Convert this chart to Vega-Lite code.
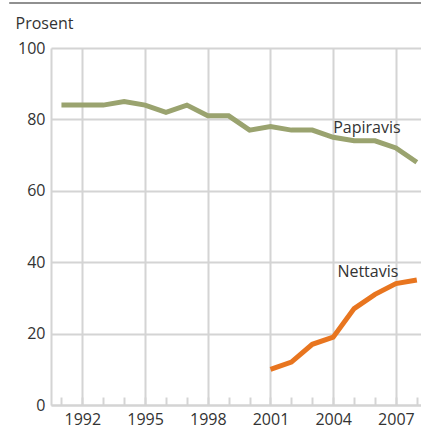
{
  "$schema": "https://vega.github.io/schema/vega-lite/v6.json",
  "width": 370,
  "height": 357,
  "autosize": {"type": "none"},
  "padding": {"left": 51, "top": 48, "right": 0, "bottom": 22},
  "background": "white",
  "config": {
    "font": "Open Sans",
    "view": {"stroke": null}
  },
  "datasets": {
    "series": [
      {"year": 1991, "value": 84, "series": "Papiravis"},
      {"year": 1992, "value": 84, "series": "Papiravis"},
      {"year": 1993, "value": 84, "series": "Papiravis"},
      {"year": 1994, "value": 85, "series": "Papiravis"},
      {"year": 1995, "value": 84, "series": "Papiravis"},
      {"year": 1996, "value": 82, "series": "Papiravis"},
      {"year": 1997, "value": 84, "series": "Papiravis"},
      {"year": 1998, "value": 81, "series": "Papiravis"},
      {"year": 1999, "value": 81, "series": "Papiravis"},
      {"year": 2000, "value": 77, "series": "Papiravis"},
      {"year": 2001, "value": 78, "series": "Papiravis"},
      {"year": 2002, "value": 77, "series": "Papiravis"},
      {"year": 2003, "value": 77, "series": "Papiravis"},
      {"year": 2004, "value": 75, "series": "Papiravis"},
      {"year": 2005, "value": 74, "series": "Papiravis"},
      {"year": 2006, "value": 74, "series": "Papiravis"},
      {"year": 2007, "value": 72, "series": "Papiravis"},
      {"year": 2008, "value": 68, "series": "Papiravis"},
      {"year": 2001, "value": 10, "series": "Nettavis"},
      {"year": 2002, "value": 12, "series": "Nettavis"},
      {"year": 2003, "value": 17, "series": "Nettavis"},
      {"year": 2004, "value": 19, "series": "Nettavis"},
      {"year": 2005, "value": 27, "series": "Nettavis"},
      {"year": 2006, "value": 31, "series": "Nettavis"},
      {"year": 2007, "value": 34, "series": "Nettavis"},
      {"year": 2008, "value": 35, "series": "Nettavis"}
    ],
    "labels": [
      {"year": 2004.0, "value": 76.2, "text": "Papiravis"},
      {"year": 2004.2, "value": 35.9, "text": "Nettavis"}
    ],
    "topline": [
      {"year": 1988.5, "year2": 2008.3, "value": 112.6}
    ]
  },
  "encoding": {
    "x": {
      "field": "year", "type": "quantitative",
      "scale": {"domain": [1990.5, 2008.2], "zero": false, "nice": false},
      "axis": {
        "title": null,
        "values": [1991,1992,1993,1994,1995,1996,1997,1998,1999,2000,2001,2002,2003,2004,2005,2006,2007,2008],
        "format": "d",
        "labelExpr": "(datum.value - 1992) % 3 == 0 ? datum.label : ''",
        "labelFlush": false,
        "labelOverlap": false,
        "labelFontSize": 16,
        "labelColor": "#333333",
        "labelPadding": 14,
        "grid": true,
        "gridColor": "#d4d4d4",
        "gridWidth": 2,
        "gridOpacity": {"condition": {"test": "(datum.value - 1992) % 3 == 0", "value": 1}, "value": 0},
        "ticks": true,
        "tickSize": -8,
        "tickColor": "#d4d4d4",
        "tickWidth": 2,
        "domain": true,
        "domainColor": "#d4d4d4",
        "domainWidth": 2
      }
    },
    "y": {
      "field": "value", "type": "quantitative",
      "scale": {"domain": [0, 100], "nice": false},
      "axis": {
        "title": "Prosent",
        "titleAngle": 0,
        "titleAlign": "left",
        "titleBaseline": "alphabetic",
        "titleX": -36,
        "titleY": -20,
        "titleFontSize": 16,
        "titleFontWeight": "normal",
        "titleColor": "#333333",
        "values": [0, 20, 40, 60, 80, 100],
        "labelFontSize": 16,
        "labelColor": "#333333",
        "labelPadding": 6,
        "ticks": false,
        "grid": true,
        "gridColor": "#d4d4d4",
        "gridWidth": 2,
        "domain": true,
        "domainColor": "#d4d4d4",
        "domainWidth": 2
      }
    }
  },
  "layer": [
    {
      "data": {"name": "series"},
      "mark": {"type": "line", "strokeWidth": 5, "strokeCap": "butt", "strokeJoin": "miter"},
      "encoding": {
        "color": {
          "field": "series", "type": "nominal",
          "scale": {"domain": ["Papiravis", "Nettavis"], "range": ["#9aa36f", "#e8751f"]},
          "legend": null
        }
      }
    },
    {
      "data": {"name": "topline"},
      "mark": {"type": "rule", "color": "#222222", "strokeWidth": 1.2},
      "encoding": {
        "x2": {"field": "year2"}
      }
    },
    {
      "data": {"name": "labels"},
      "mark": {"type": "text", "align": "left", "baseline": "alphabetic", "fontSize": 16, "color": "#333333"},
      "encoding": {
        "text": {"field": "text"}
      }
    }
  ]
}
